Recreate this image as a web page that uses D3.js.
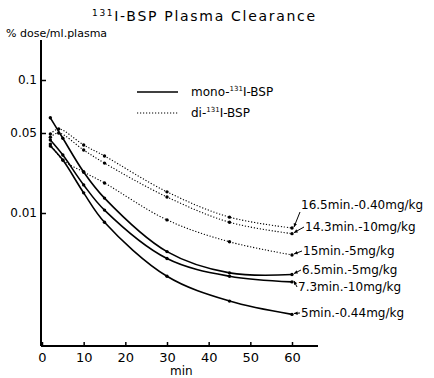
<!DOCTYPE html>
<html><head><meta charset="utf-8">
<script src="https://cdn.jsdelivr.net/npm/d3@7"></script>
<style>
html,body{margin:0;padding:0;background:#fff;}
svg{display:block;font-family:"DejaVu Sans",sans-serif;}
</style></head>
<body><svg id="c" width="434" height="378"></svg>
<script>
const xTicks = [0,10,20,30,40,50,60];
const yTicks = [0.1,0.05,0.01];
const yTickLabels = ["0.1","0.05","0.01"];

const seriesNames = ["6.5min.-5mg/kg","7.3min.-10mg/kg","5min.-0.44mg/kg",
                     "16.5min.-0.40mg/kg","14.3min.-10mg/kg","15min.-5mg/kg"];
const seriesType = ["mono","mono","mono","di","di","di"];
const tMono = [2,5,10,15,30,45,60];
const tDi12 = [2,4,10,15,30,45,60];
const tDi3 = [2,5,10,15,30,45,60];
const s1 = [0.061,0.045,0.0228,0.0135,0.0046,0.0030,0.0029];
const s2 = [0.0434,0.0321,0.0176,0.0106,0.0040,0.0028,0.0025];
const s3 = [0.0385,0.029,0.015,0.0083,0.0028,0.0017,0.0013];
const d1 = [0.049,0.0527,0.0393,0.0315,0.0153,0.0092,0.0074];
const d2 = [0.046,0.050,0.0355,0.0273,0.0138,0.0083,0.0066];
const d3v = [0.040,0.029,0.0228,0.0183,0.0087,0.0056,0.0043];
const seriesT = [tMono,tMono,tMono,tDi12,tDi12,tDi3];
const seriesV = [s1,s2,s3,d1,d2,d3v];
const legendLabels = ["mono-","di-"];

const svg = d3.select("#c");
const x = d3.scaleLinear().domain([0,60]).range([42,292]);
const y = d3.scaleLog().domain([0.01,0.05,0.1]).range([213,133,80]);

// axes lines
svg.append("line").attr("x1",41).attr("x2",41).attr("y1",40).attr("y2",346)
  .attr("stroke","#000").attr("stroke-width",2);
svg.append("line").attr("x1",41).attr("x2",318).attr("y1",346).attr("y2",346)
  .attr("stroke","#000").attr("stroke-width",2);

const ya = svg.append("g").attr("transform","translate(41,0)")
  .call(d3.axisLeft(y).tickValues(yTicks).tickFormat((d,i)=>yTickLabels[i]).tickSizeInner(-5).tickSizeOuter(0).tickPadding(4));
ya.select(".domain").remove();
ya.selectAll("line").attr("stroke","#000").attr("stroke-width",1.5);
ya.selectAll("text").attr("font-size",12).attr("fill","#000").attr("font-family","DejaVu Sans");

const xa = svg.append("g").attr("transform","translate(0,346)")
  .call(d3.axisBottom(x).tickValues(xTicks).tickFormat(d3.format("d")).tickSizeInner(-4).tickSizeOuter(0).tickPadding(7));
xa.select(".domain").remove();
xa.selectAll("line").attr("stroke","#000").attr("stroke-width",1.5);
xa.selectAll("text").attr("font-size",13).attr("fill","#000").attr("font-family","DejaVu Sans");

// titles
svg.append("text").attr("x",92).attr("y",21).attr("font-size",14).attr("letter-spacing",1.7)
  .html('<tspan font-size="9" dy="-5">131</tspan><tspan dy="5">I-BSP  Plasma  Clearance</tspan>');
svg.append("text").attr("x",6).attr("y",37).attr("font-size",11).text("% dose/ml.plasma");
svg.append("text").attr("x",170).attr("y",375).attr("font-size",12).text("min");

// curves
const line = d3.line().x(d=>x(d[0])).y(d=>y(d[1])).curve(d3.curveCatmullRom.alpha(0.5));
seriesV.forEach((vals,i)=>{
  const pts = vals.map((v,j)=>[seriesT[i][j],v]);
  const mono = seriesType[i]==="mono";
  svg.append("path").attr("d",line(pts)).attr("fill","none").attr("stroke","#000")
    .attr("stroke-width",mono?1.6:1.1).attr("stroke-dasharray",mono?null:"1.2,1.8");
  svg.selectAll(null).data(pts).enter().append("circle")
    .attr("cx",d=>x(d[0])).attr("cy",d=>y(d[1])).attr("r",1.7).attr("fill","#000");
});

// right labels with arrows
const labelPos = [[300,274],[296,291],[299,317],[299,209],[303,231],[301,255]];
labelPos.forEach((p,i)=>{
  const vals = seriesV[i], ts = seriesT[i];
  const ex = x(ts[ts.length-1]), ey = y(vals[vals.length-1]);
  svg.append("text").attr("x",p[0]+2).attr("y",p[1]).attr("font-size",12).text(seriesNames[i]);
  const sx = p[0]+1, sy = i===3 ? p[1]+3 : p[1]-4;
  svg.append("line").attr("x1",sx).attr("y1",sy).attr("x2",ex+2).attr("y2",ey-1)
    .attr("stroke","#000").attr("stroke-width",1);
  const ang = Math.atan2(ey-1-sy, ex+2-sx);
  const ah = 4;
  const tip=[ex+2,ey-1];
  const a1=[tip[0]-ah*Math.cos(ang-0.45), tip[1]-ah*Math.sin(ang-0.45)];
  const a2=[tip[0]-ah*Math.cos(ang+0.45), tip[1]-ah*Math.sin(ang+0.45)];
  svg.append("path").attr("d",`M${tip}L${a1}L${a2}Z`).attr("fill","#000");
});

// legend
const lg = [[92,false],[113,true]];
lg.forEach((r,i)=>{
  svg.append("line").attr("x1",137).attr("x2",178).attr("y1",r[0]).attr("y2",r[0])
    .attr("stroke","#000").attr("stroke-width",r[1]?1.1:1.6).attr("stroke-dasharray",r[1]?"1.2,1.8":null);
  svg.append("text").attr("x",191).attr("y",r[0]+4).attr("font-size",12)
    .html(`${legendLabels[i]}<tspan font-size="7" dy="-5">131</tspan><tspan dy="5">I-BSP</tspan>`);
});
</script></body></html>
